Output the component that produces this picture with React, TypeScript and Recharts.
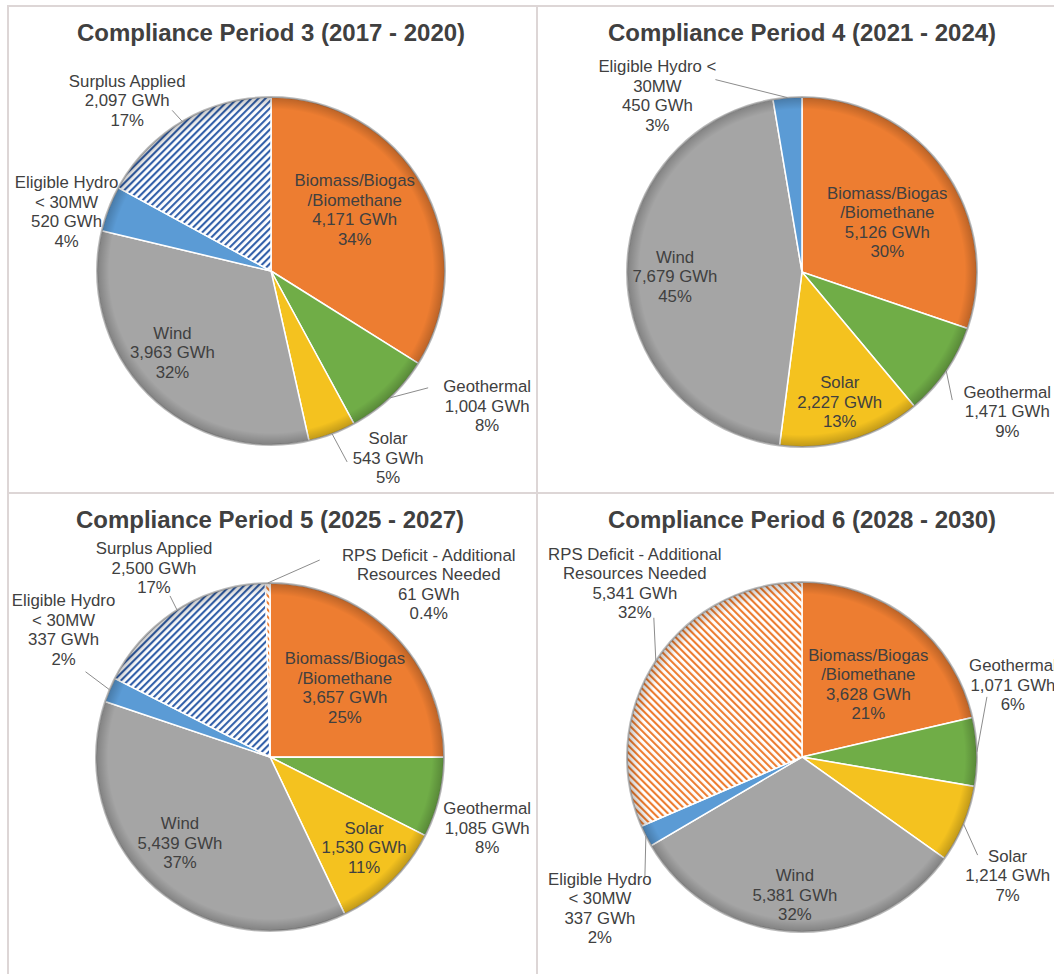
import React from 'react';
import { PieChart, Pie, Cell } from 'recharts';

// Compliance Period 3 (2017 - 2020)
const CP3_SOURCES = ['Biomass/Biogas\n/Biomethane', 'Geothermal', 'Solar', 'Wind', 'Eligible Hydro\n< 30MW', 'Surplus Applied'];
const CP3_GWH = [4171, 1004, 543, 3963, 520, 2097];
const CP3_PCT = ['34%', '8%', '5%', '32%', '4%', '17%'];

// Compliance Period 4 (2021 - 2024)
const CP4_SOURCES = ['Biomass/Biogas\n/Biomethane', 'Geothermal', 'Solar', 'Wind', 'Eligible Hydro <\n30MW'];
const CP4_GWH = [5126, 1471, 2227, 7679, 450];
const CP4_PCT = ['30%', '9%', '13%', '45%', '3%'];

// Compliance Period 5 (2025 - 2027)
const CP5_SOURCES = ['Biomass/Biogas\n/Biomethane', 'Geothermal', 'Solar', 'Wind', 'Eligible Hydro\n< 30MW', 'Surplus Applied', 'RPS Deficit - Additional\nResources Needed'];
const CP5_GWH = [3657, 1085, 1530, 5439, 337, 2500, 61];
const CP5_PCT = ['25%', '8%', '11%', '37%', '2%', '17%', '0.4%'];

// Compliance Period 6 (2028 - 2030)
const CP6_SOURCES = ['Biomass/Biogas\n/Biomethane', 'Geothermal', 'Solar', 'Wind', 'Eligible Hydro\n< 30MW', 'RPS Deficit - Additional\nResources Needed'];
const CP6_GWH = [3628, 1071, 1214, 5381, 337, 5341];
const CP6_PCT = ['21%', '6%', '7%', '32%', '2%', '32%'];

// label placement: radius factor k, nudge dx/dy, optional leader end (relative to label centre)
type Place = { k: number; dx: number; dy: number; lead?: [number, number] };

const CP3_PLACE: Place[] = [
  { k: 0.55, dx: 0, dy: -15 },
  { k: 1, dx: 97, dy: 8, lead: [-59, -18] },
  { k: 1, dx: 56, dy: 24, lead: [-41, 4] },
  { k: 0.65, dx: -18, dy: 2 },
  { k: 1, dx: -42, dy: 3 },
  { k: 1, dx: -55, dy: -21, lead: [45, 10] },
];
const CP4_PLACE: Place[] = [
  { k: 0.55, dx: 7, dy: 6 },
  { k: 1, dx: 61, dy: 40, lead: [-55, -11] },
  { k: 0.75, dx: 1, dy: 4 },
  { k: 0.72, dx: -1, dy: 2 },
  { k: 1, dx: -130, dy: -2, lead: [58, -16] },
];
const CP5_PLACE: Place[] = [
  { k: 0.6, dx: 1, dy: 4 },
  { k: 1, dx: 48, dy: 30 },
  { k: 0.7, dx: 9, dy: 3 },
  { k: 0.65, dx: -15, dy: 1 },
  { k: 1, dx: -46, dy: -60, lead: [22, 42] },
  { k: 1, dx: -23, dy: -42, lead: [16, 28] },
  { k: 1, dx: 161, dy: 1, lead: [-109, -24] },
];
const CP6_PLACE: Place[] = [
  { k: 0.6, dx: 1, dy: 9 },
  { k: 1, dx: 36, dy: -67, lead: [-26, 12] },
  { k: 1, dx: 44, dy: 51, lead: [-30, -20] },
  { k: 0.8, dx: -1, dy: -2 },
  { k: 1, dx: -46, dy: 72, lead: [45, -31] },
  { k: 1, dx: -21, dy: -78, lead: [19, 35] },
];

const FONT = '"Liberation Sans", Arial, sans-serif';
const TEXT = '#404040';
const LINE_H = 19.5;
const RAD = Math.PI / 180;

const fillFor = (name: string, id: string) => {
  if (name.startsWith('Biomass')) return '#ED7D31';
  if (name.startsWith('Geothermal')) return '#70AD47';
  if (name.startsWith('Solar')) return '#F4C21F';
  if (name.startsWith('Wind')) return '#A5A5A5';
  if (name.startsWith('Eligible')) return '#5B9BD5';
  if (name.startsWith('Surplus')) return `url(#blue-${id})`;
  return `url(#orange-${id})`;
};

const makeLabel = (names: string[], pcts: string[], place: Place[]) => (p: any) => {
  const { cx, cy, midAngle, outerRadius, index, value } = p;
  const pl = place[index];
  const cos = Math.cos(-midAngle * RAD);
  const sin = Math.sin(-midAngle * RAD);
  const ex = cx + outerRadius * cos;
  const ey = cy + outerRadius * sin;
  const x = cx + outerRadius * pl.k * cos + pl.dx;
  const y = cy + outerRadius * pl.k * sin + pl.dy;
  const lines = [...names[index].split('\n'), `${Number(value).toLocaleString('en-US')} GWh`, pcts[index]];
  const top = y - ((lines.length - 1) * LINE_H) / 2 + 6;
  return (
    <g key={`lbl-${index}`}>
      {pl.lead && (
        <line x1={ex} y1={ey} x2={x + pl.lead[0]} y2={y + pl.lead[1]} stroke="#8c8c8c" strokeWidth={1} />
      )}
      <text textAnchor="middle" fill={TEXT} fontSize={16.8} fontFamily={FONT}>
        {lines.map((t, i) => (
          <tspan key={i} x={x} y={top + i * LINE_H}>
            {t}
          </tspan>
        ))}
      </text>
    </g>
  );
};

interface PanelProps {
  id: string;
  title: string;
  names: string[];
  gwh: number[];
  pcts: string[];
  place: Place[];
  left: number;
  top: number;
  width: number;
  height: number;
  cx: number;
  cy: number;
  r: number;
}

const Panel: React.FC<PanelProps> = ({ id, title, names, gwh, pcts, place, left, top, width, height, cx, cy, r }) => {
  const data = names.map((name, i) => ({ name, gwh: gwh[i] }));
  return (
    <div style={{ position: 'absolute', left, top, width, height, overflow: 'hidden' }}>
      <PieChart width={width} height={height} margin={{ top: 0, right: 0, bottom: 0, left: 0 }}>
        <defs>
          <pattern id={`blue-${id}`} patternUnits="userSpaceOnUse" width={5} height={5} patternTransform="rotate(45)">
            <rect width={5} height={5} fill="#ffffff" />
            <rect width={2.1} height={5} fill="#3461AA" />
          </pattern>
          <pattern id={`orange-${id}`} patternUnits="userSpaceOnUse" width={5} height={5} patternTransform="rotate(-45)">
            <rect width={5} height={5} fill="#ffffff" />
            <rect width={2.1} height={5} fill="#ED7D31" />
          </pattern>
          <radialGradient id={`shade-${id}`} cx="50%" cy="50%" r="50%">
            <stop offset="0%" stopColor="#000000" stopOpacity={0} />
            <stop offset="93%" stopColor="#000000" stopOpacity={0} />
            <stop offset="100%" stopColor="#000000" stopOpacity={0.22} />
          </radialGradient>
        </defs>
        <Pie
          data={data}
          dataKey="gwh"
          nameKey="name"
          cx={cx}
          cy={cy}
          outerRadius={r}
          startAngle={90}
          endAngle={-270}
          stroke="#ffffff"
          strokeWidth={1.5}
          labelLine={false}
          label={makeLabel(names, pcts, place)}
          isAnimationActive={false}
        >
          {data.map((d, i) => (
            <Cell key={`c-${i}`} fill={fillFor(d.name, id)} />
          ))}
        </Pie>
        <Pie
          data={[{ v: 1 }]}
          dataKey="v"
          cx={cx}
          cy={cy}
          innerRadius={r - 14}
          outerRadius={r}
          startAngle={90}
          endAngle={-270}
          fill={`url(#shade-${id})`}
          stroke="none"
          isAnimationActive={false}
        />
        <Pie
          data={[{ v: 1 }]}
          dataKey="v"
          cx={cx}
          cy={cy}
          innerRadius={r - 1}
          outerRadius={r + 1}
          startAngle={90}
          endAngle={-270}
          fill="rgba(60,60,60,0.35)"
          stroke="none"
          isAnimationActive={false}
        />
      </PieChart>
      <div
        style={{
          position: 'absolute',
          left: cx - 300,
          width: 600,
          top: 12,
          lineHeight: '28px',
          textAlign: 'center',
          fontFamily: FONT,
          fontWeight: 'bold',
          fontSize: 24,
          color: TEXT,
        }}
      >
        {title}
      </div>
    </div>
  );
};

const BORDER = '#ddd6d6';

export default function App() {
  return (
    <div
      style={{
        position: 'absolute',
        left: 0,
        top: 0,
        width: 1054,
        height: 974,
        overflow: 'hidden',
        background: '#ffffff',
      }}
    >
      <div style={{ position: 'absolute', left: 7, top: 5, width: 2, height: 969, background: BORDER }} />
      <div style={{ position: 'absolute', left: 7, top: 5, width: 1047, height: 2, background: BORDER }} />
      <div style={{ position: 'absolute', left: 536, top: 5, width: 2, height: 969, background: BORDER }} />
      <div style={{ position: 'absolute', left: 7, top: 492, width: 1047, height: 2, background: BORDER }} />

      <Panel id="cp3" title="Compliance Period 3 (2017 - 2020)" names={CP3_SOURCES} gwh={CP3_GWH} pcts={CP3_PCT}
        place={CP3_PLACE} left={9} top={7} width={522} height={485} cx={262} cy={264} r={174} />
      <Panel id="cp4" title="Compliance Period 4 (2021 - 2024)" names={CP4_SOURCES} gwh={CP4_GWH} pcts={CP4_PCT}
        place={CP4_PLACE} left={538} top={7} width={516} height={485} cx={264} cy={265} r={175} />
      <Panel id="cp5" title="Compliance Period 5 (2025 - 2027)" names={CP5_SOURCES} gwh={CP5_GWH} pcts={CP5_PCT}
        place={CP5_PLACE} left={9} top={494} width={522} height={480} cx={261} cy={263} r={174} />
      <Panel id="cp6" title="Compliance Period 6 (2028 - 2030)" names={CP6_SOURCES} gwh={CP6_GWH} pcts={CP6_PCT}
        place={CP6_PLACE} left={538} top={494} width={516} height={480} cx={264} cy={263} r={175} />
    </div>
  );
}
